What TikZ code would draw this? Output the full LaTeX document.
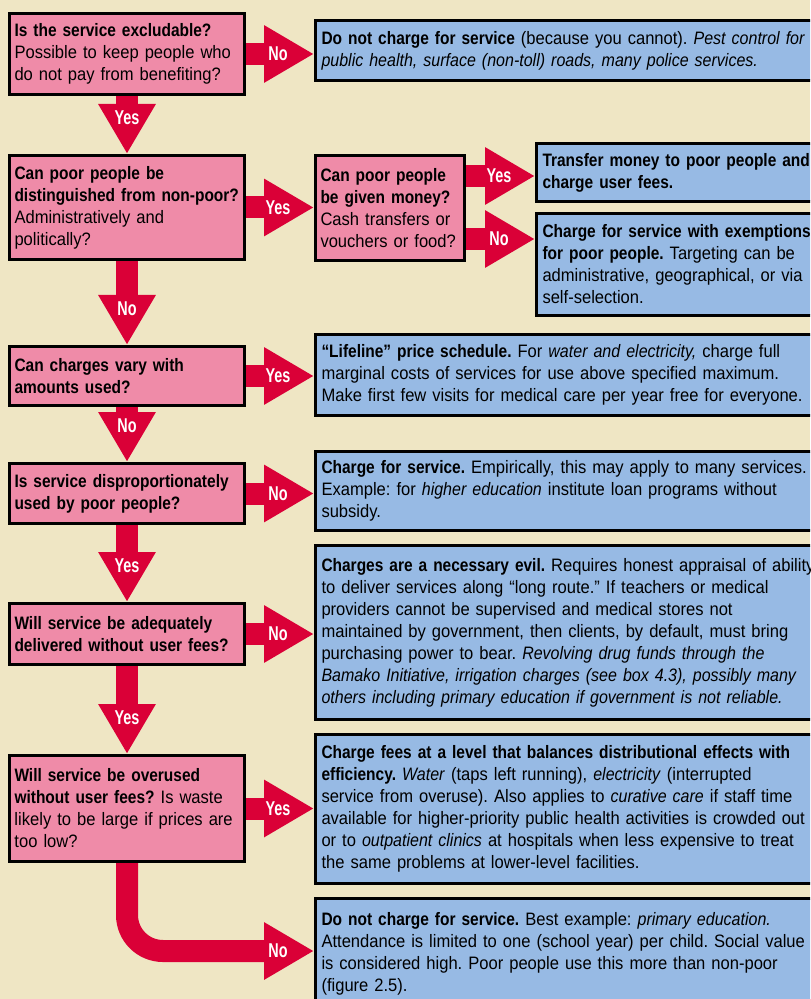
\documentclass[tikz,border=0pt]{standalone}
\usepackage{fontspec}
\setmainfont{Liberation Sans}[
  UprightFeatures={FakeStretch=0.92},
  BoldFeatures={FakeStretch=0.86},
  ItalicFeatures={FakeStretch=0.89},
  BoldItalicFeatures={FakeStretch=0.86}]
\newfontfamily\tagfont{Liberation Sans}[FakeStretch=0.72]
\usetikzlibrary{arrows.meta}
\usepackage{xcolor}
\definecolor{PaperBeige}{RGB}{239,230,196}
\definecolor{QuestionPink}{RGB}{239,139,168}
\definecolor{AnswerBlue}{RGB}{151,186,228}
\definecolor{ArrowRed}{RGB}{218,0,55}
\tikzset{
  question/.style={draw=black, fill=QuestionPink, line width=1.5pt,
    anchor=north west, inner xsep=2.5pt, inner ysep=2pt, text width=112.5pt,
    align=left, font=\fontsize{9}{11}\selectfont\frenchspacing},
  answer/.style={draw=black, fill=AnswerBlue, line width=1.5pt,
    anchor=north west, inner xsep=3pt, inner ysep=2pt, text width=270pt,
    align=left, font=\fontsize{9}{11}\selectfont\frenchspacing},
  bigarrow/.style={draw=ArrowRed, line width=11pt,
    -{Triangle[length=25pt, width=27pt]}},
  tag/.style={text=white, inner sep=0pt,
    font=\tagfont\bfseries\fontsize{10}{11}\selectfont}
}

\begin{document}
\begin{tikzpicture}[x=0.5pt, y=-0.5pt]
  \useasboundingbox (0,0) rectangle (810,999);
  \clip (0,0) rectangle (810,999);
  \fill[PaperBeige] (0,0) rectangle (810,999);

  % questions
  \node[question, minimum height=40.5pt] (q1) at (8,12) {\textbf{Is the service excludable?}\\Possible to keep people who\\do not pay from benefiting?};
  \node[question, minimum height=52pt] (q2) at (8,154) {\textbf{Can poor people be}\\\textbf{distinguished from non-poor?}\\Administratively and\\politically?};
  \node[question, minimum height=52.5pt, text width=69.5pt] (q2b) at (314,154) {\textbf{Can poor people}\\\textbf{be given money?}\\Cash transfers or\\vouchers or food?};
  \node[question, minimum height=29.5pt] (q3) at (8,345) {\textbf{Can charges vary with}\\\textbf{amounts used?}};
  \node[question, minimum height=30pt] (q4) at (8,462) {\textbf{Is service disproportionately}\\\textbf{used by poor people?}};
  \node[question, minimum height=30.5pt] (q5) at (8,602) {\textbf{Will service be adequately}\\\textbf{delivered without user fees?}};
  \node[question, minimum height=53pt] (q6) at (8,754) {\textbf{Will service be overused}\\\textbf{without user fees?} Is waste\\likely to be large if prices are\\too low?};

  % answers
  \node[answer, minimum height=30pt] (a1) at (314,19) {\textbf{Do not charge for service} (because you cannot). \textit{Pest control for}\\\textit{public health, surface (non-toll) roads, many police services.}};
  \node[answer, minimum height=29pt, text width=160pt] (a2a) at (535,142) {\textbf{Transfer money to poor people and}\\\textbf{charge user fees.}};
  \node[answer, minimum height=51pt, text width=160pt] (a2b) at (535,212) {\textbf{Charge for service with exemptions}\\\textbf{for poor people.} Targeting can be\\administrative, geographical, or via\\self-selection.};
  \node[answer, minimum height=40.5pt] (a3) at (314,333) {\textbf{``Lifeline'' price schedule.} For \textit{water and electricity,} charge full\\marginal costs of services for use above specified maximum.\\Make first few visits for medical care per year free for everyone.};
  \node[answer, minimum height=39.5pt] (a4) at (314,450) {\textbf{Charge for service.} Empirically, this may apply to many services.\\Example: for \textit{higher education} institute loan programs without\\subsidy.};
  \node[answer, minimum height=87pt] (a5) at (314,544) {\textbf{Charges are a necessary evil.} Requires honest appraisal of ability\\to deliver services along ``long route.'' If teachers or medical\\providers cannot be supervised and medical stores not\\maintained by government, then clients, by default, must bring\\purchasing power to bear. \textit{Revolving drug funds through the}\\\textit{Bamako Initiative, irrigation charges (see box 4.3), possibly many}\\\textit{others including primary education if government is not reliable.}};
  \node[answer, minimum height=74.5pt] (a6) at (314,733) {\textbf{Charge fees at a level that balances distributional effects with}\\\textbf{efficiency.} \textit{Water} (taps left running), \textit{electricity} (interrupted\\service from overuse). Also applies to \textit{curative care} if staff time\\available for higher-priority public health activities is crowded out\\or to \textit{outpatient clinics} at hospitals when less expensive to treat\\the same problems at lower-level facilities.};
  \node[answer, minimum height=55pt] (a7) at (314,897) {\textbf{Do not charge for service.} Best example: \textit{primary education.}\\Attendance is limited to one (school year) per child. Social value\\is considered high. Poor people use this more than non-poor\\(figure 2.5).};

  % connectors
  \coordinate (moneyyes) at ([yshift=16pt]q2b.east);
  \coordinate (moneyno) at ([yshift=-15.5pt]q2b.east);
  \coordinate (lastno) at ([yshift=-27pt]a7.north west);

  \draw[bigarrow] (q1.east) -- (q1.east -| a1.west) node[tag, at end, xshift=-18pt] (t1) {No};
  \draw[bigarrow] (q1.south) -- (q2.north) node[tag, at end, yshift=18pt] (t2) {Yes};
  \draw[bigarrow] (q2.east) -- (q2.east -| q2b.west) node[tag, at end, xshift=-18pt] (t3) {Yes};
  \draw[bigarrow] (moneyyes) -- (moneyyes -| a2a.west) node[tag, at end, xshift=-18pt] (t4) {Yes};
  \draw[bigarrow] (moneyno) -- (moneyno -| a2b.west) node[tag, at end, xshift=-18pt] (t5) {No};
  \draw[bigarrow] (q2.south) -- (q3.north) node[tag, at end, yshift=18pt] (t6) {No};
  \draw[bigarrow] (q3.east) -- (q3.east -| a3.west) node[tag, at end, xshift=-18pt] (t7) {Yes};
  \draw[bigarrow] (q3.south) -- (q4.north) node[tag, at end, yshift=18pt] (t8) {No};
  \draw[bigarrow] (q4.east) -- (q4.east -| a4.west) node[tag, at end, xshift=-18pt] (t9) {No};
  \draw[bigarrow] (q4.south) -- (q5.north) node[tag, at end, yshift=18pt] (t10) {Yes};
  \draw[bigarrow] (q5.east) -- (q5.east -| a5.west) node[tag, at end, xshift=-18pt] (t11) {No};
  \draw[bigarrow] (q5.south) -- (q6.north) node[tag, at end, yshift=18pt] (t12) {Yes};
  \draw[bigarrow] (q6.east) -- (q6.east -| a6.west) node[tag, at end, xshift=-18pt] (t13) {Yes};
  \draw[bigarrow, rounded corners=18pt] (q6.south) |- (lastno) node[tag, at end, xshift=-18pt] (t14) {No};
\end{tikzpicture}
\end{document}
